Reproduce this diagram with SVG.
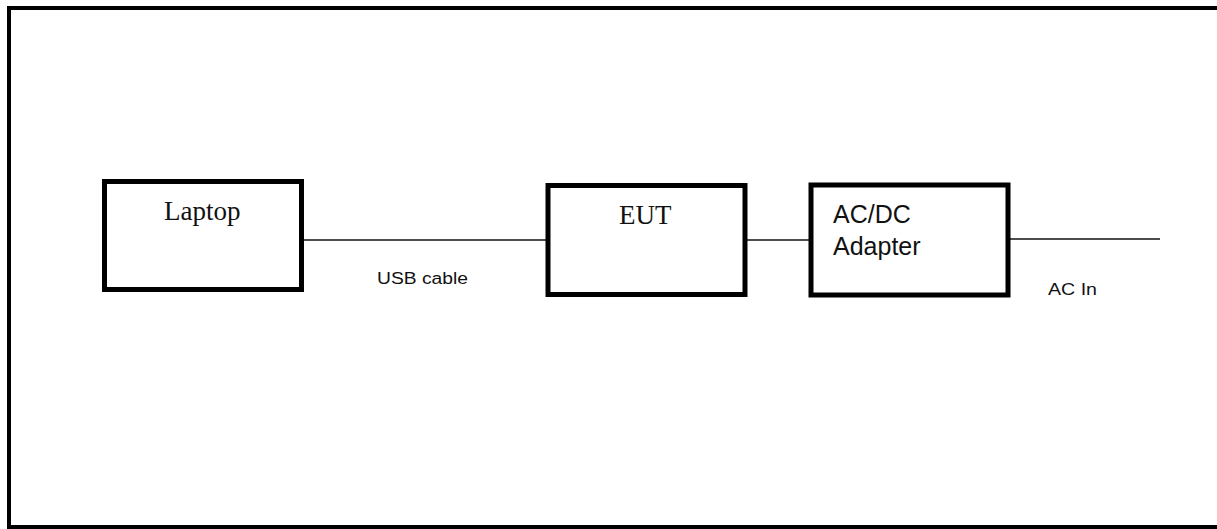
<svg xmlns="http://www.w3.org/2000/svg" width="1217" height="529" viewBox="0 0 1217 529">
<style>
.box{fill:#fff;stroke:#000;stroke-width:5}
.frame{fill:none;stroke:#000;stroke-width:4}
.wire{stroke:#111;stroke-width:1.6;fill:none}
.serif{font-family:"Liberation Serif","Times New Roman",serif;font-size:27px;fill:#111}
.sans{font-family:"Liberation Sans",Arial,sans-serif;fill:#111}
</style>
<rect width="1217" height="529" fill="#fff"/>
<rect class="frame" x="9" y="8" width="1215" height="519"/>
<g id="connectors">
<line class="wire" x1="304" y1="240" x2="546" y2="240"/>
<line class="wire" x1="745" y1="240" x2="810" y2="240"/>
<line class="wire" x1="1010" y1="239" x2="1160" y2="239"/>
<text class="sans" x="377" y="284" font-size="16" textLength="91" lengthAdjust="spacingAndGlyphs">USB cable</text>
<text class="sans" x="1048" y="295" font-size="16" textLength="49" lengthAdjust="spacingAndGlyphs">AC In</text>
</g>
<g id="laptop">
<rect class="box" x="104.5" y="181.5" width="197" height="108"/>
<text class="serif" x="164" y="220">Laptop</text>
</g>
<g id="eut">
<rect class="box" x="548" y="185.5" width="197" height="109"/>
<text class="serif" x="619" y="224">EUT</text>
</g>
<g id="adapter">
<rect class="box" x="811" y="185" width="197" height="110"/>
<text class="sans" x="833" y="223" font-size="25">AC/DC</text>
<text class="sans" x="833" y="255" font-size="25">Adapter</text>
</g>
</svg>
